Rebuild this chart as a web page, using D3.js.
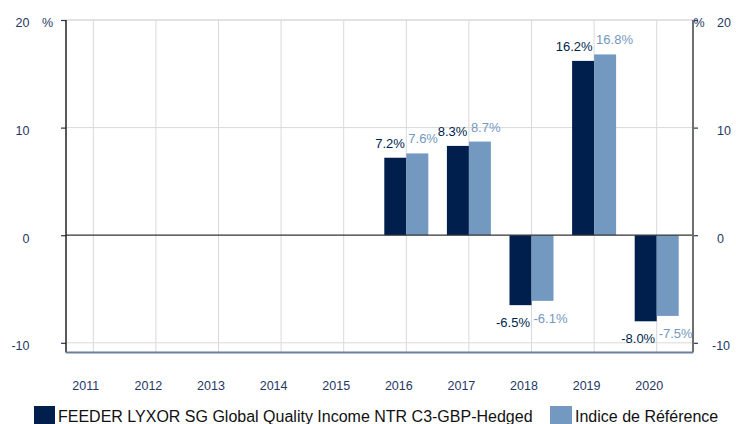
<!DOCTYPE html>
<html>
<head>
<meta charset="utf-8">
<script src="https://cdn.jsdelivr.net/npm/d3@7"></script>
<style>
  body { margin: 0; background: #fff; }
  text { font-family: Arial, "Liberation Sans", sans-serif; }
</style>
</head>
<body>
<div id="chart"></div>
<script>
// data
var years = ["2011", "2012", "2013", "2014", "2015", "2016", "2017", "2018", "2019", "2020"];
var fundValues = [null, null, null, null, null, 7.2, 8.3, -6.5, 16.2, -8.0];
var indexValues = [null, null, null, null, null, 7.6, 8.7, -6.1, 16.8, -7.5];
var yTicks = [-10, 0, 10, 20];
var seriesNames = ["FEEDER LYXOR SG Global Quality Income NTR C3-GBP-Hedged", "Indice de Référence"];

var width = 736, height = 424;
var plotLeft = 66, plotRight = 693, plotTop = 20, plotBottom = 352.5;
var darkCol = "#001f4d", lightCol = "#7399c0", textCol = "#1f3864";

var svg = d3.select("#chart").append("svg")
    .attr("width", width)
    .attr("height", height);

var x = d3.scalePoint()
    .domain(years)
    .range([93.3, 656.7]);

var y = d3.scaleLinear()
    .domain([-10.9, 20])
    .range([plotBottom, plotTop]);

var barW = 22;

// vertical grid at category centres
svg.append("g").selectAll("line")
    .data(years)
    .enter().append("line")
    .attr("x1", d => x(d)).attr("x2", d => x(d))
    .attr("y1", plotTop).attr("y2", plotBottom)
    .attr("stroke", "#d9d9d9").attr("stroke-width", 1);

// horizontal grid
svg.append("g").selectAll("line")
    .data(yTicks.filter(d => d != 0))
    .enter().append("line")
    .attr("x1", plotLeft).attr("x2", plotRight)
    .attr("y1", d => y(d)).attr("y2", d => y(d))
    .attr("stroke", "#d9d9d9").attr("stroke-width", 1);

// bars
var rows = years.map(function(yr, i) {
    return { year: yr, fund: fundValues[i], index: indexValues[i] };
}).filter(d => d.fund != null);

svg.append("g").selectAll("rect")
    .data(rows)
    .enter().append("rect")
    .attr("x", d => x(d.year) - barW)
    .attr("width", barW)
    .attr("y", d => y(Math.max(0, d.fund)))
    .attr("height", d => Math.abs(y(d.fund) - y(0)))
    .attr("fill", darkCol);

svg.append("g").selectAll("rect")
    .data(rows)
    .enter().append("rect")
    .attr("x", d => x(d.year))
    .attr("width", barW)
    .attr("y", d => y(Math.max(0, d.index)))
    .attr("height", d => Math.abs(y(d.index) - y(0)))
    .attr("fill", lightCol);

// zero line
svg.append("line")
    .attr("x1", plotLeft).attr("x2", plotRight)
    .attr("y1", y(0)).attr("y2", y(0))
    .attr("stroke", "#333").attr("stroke-width", 1.2);

// value labels
function labelY(v) {
    return v >= 0 ? y(v) - 10 : y(v) + 22;
}
svg.append("g").selectAll("text")
    .data(rows)
    .enter().append("text")
    .attr("x", d => x(d.year) - 1.5)
    .attr("y", d => labelY(d.fund))
    .attr("text-anchor", "end")
    .attr("font-size", "13px")
    .attr("fill", darkCol)
    .text(d => d.fund.toFixed(1) + "%");

svg.append("g").selectAll("text")
    .data(rows)
    .enter().append("text")
    .attr("x", d => x(d.year) + 2)
    .attr("y", d => labelY(d.index))
    .attr("font-size", "13px")
    .attr("fill", lightCol)
    .text(d => d.index.toFixed(1) + "%");

// axes
var fmt = d => String(d);
var leftAxis = d3.axisLeft(y).tickValues(yTicks).tickSize(5).tickPadding(0).tickFormat(fmt);
var rightAxis = d3.axisRight(y).tickValues(yTicks).tickSize(5).tickPadding(0).tickFormat(fmt);

var gl = svg.append("g").attr("transform", "translate(" + plotLeft + ",0)").call(leftAxis);
gl.select(".domain").remove();
gl.selectAll(".tick line").attr("stroke", textCol).attr("stroke-width", 1.2);
gl.selectAll(".tick text")
    .attr("x", -36.5).attr("dy", "0.55em")
    .attr("font-family", "Arial, 'Liberation Sans', sans-serif")
    .attr("font-size", "12.5px").attr("fill", textCol);

var gr = svg.append("g").attr("transform", "translate(" + plotRight + ",0)").call(rightAxis);
gr.select(".domain").remove();
gr.selectAll(".tick line").attr("stroke", textCol).attr("stroke-width", 1.2);
gr.selectAll(".tick text")
    .attr("x", d => d < 0 ? 19 : 24).attr("dy", "0.55em")
    .attr("font-family", "Arial, 'Liberation Sans', sans-serif")
    .attr("font-size", "12.5px").attr("fill", textCol);

// % units
svg.append("text").attr("x", 42).attr("y", 26.5)
    .attr("font-size", "12.5px").attr("fill", textCol).text("%");
svg.append("text").attr("x", 693.5).attr("y", 26.5)
    .attr("font-size", "12.5px").attr("fill", textCol).text("%");

// frame lines
svg.append("line").attr("x1", plotLeft).attr("x2", plotRight).attr("y1", plotTop).attr("y2", plotTop)
    .attr("stroke", "#d9d9d9").attr("stroke-width", 1);
svg.append("line").attr("x1", plotLeft).attr("x2", plotLeft).attr("y1", plotTop).attr("y2", plotBottom)
    .attr("stroke", "#222").attr("stroke-width", 1.5);
svg.append("line").attr("x1", plotRight).attr("x2", plotRight).attr("y1", plotTop).attr("y2", plotBottom)
    .attr("stroke", "#6f6f6f").attr("stroke-width", 2);
svg.append("line").attr("x1", plotLeft).attr("x2", plotRight).attr("y1", plotBottom).attr("y2", plotBottom)
    .attr("stroke", "#6c7f9c").attr("stroke-width", 2);

// year labels
svg.append("g").selectAll("text")
    .data(years)
    .enter().append("text")
    .attr("x", d => x(d) - 7.5)
    .attr("y", 389.5)
    .attr("text-anchor", "middle")
    .attr("font-size", "12.5px")
    .attr("fill", textCol)
    .text(d => d);

// legend
var legend = svg.append("g");
legend.append("rect").attr("x", 34).attr("y", 406).attr("width", 21).attr("height", 21).attr("fill", darkCol);
legend.append("text").attr("x", 58).attr("y", 422)
    .attr("font-size", "16px").attr("fill", "#111").text(seriesNames[0]);
legend.append("rect").attr("x", 550).attr("y", 406).attr("width", 22).attr("height", 21).attr("fill", lightCol);
legend.append("text").attr("x", 575).attr("y", 422)
    .attr("font-size", "16px").attr("fill", "#111").text(seriesNames[1]);
</script>
</body>
</html>
